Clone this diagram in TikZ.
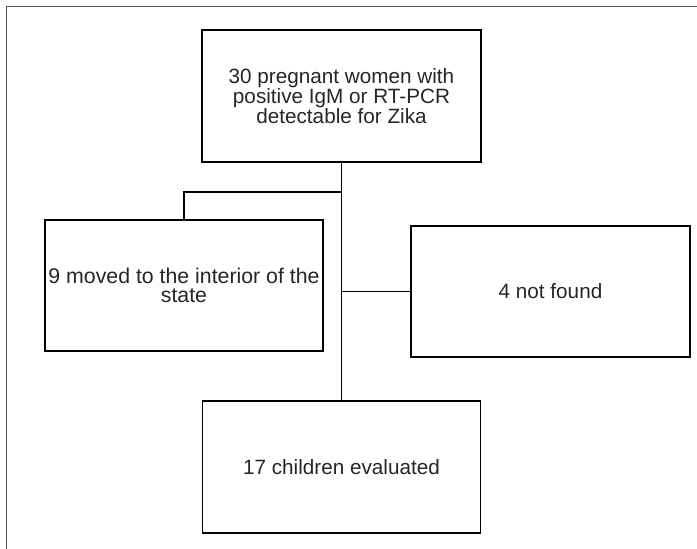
\documentclass[tikz,border=0pt]{standalone}
\usepackage{fontspec}
\setmainfont{Liberation Sans}
\begin{document}
\begin{tikzpicture}[x=1pt,y=-1pt,
  box/.style={draw=black, line width=1.8pt, fill=white, inner sep=0pt, align=center,
    font=\fontsize{20.7}{19.7}\selectfont, text=black!85},
  conn/.style={draw=black, line width=1.8pt},
  frame/.style={draw=black!65, line width=1pt}]
\useasboundingbox (0,0) rectangle (697,549);
\draw[frame] (6,549) -- (6,6) -- (697,6);
\node[box, minimum width=279, minimum height=132] (top) at (341.5,96)
  {30 pregnant women with\\positive IgM or RT-PCR\\detectable for Zika};
\node[box, minimum width=278, minimum height=131, font=\fontsize{21.3}{19.7}\selectfont] (left) at (184,285.5)
  {9 moved to the interior of the\\state};
\node[box, minimum width=279, minimum height=131] (right) at (550.5,291.5)
  {4 not found};
\node[box, minimum width=278, minimum height=132] (bottom) at (341.5,467)
  {17 children evaluated};
\coordinate (jl) at (341.5,192);
\coordinate (jr) at (341.5,291.5);
\draw[conn] (top.south) -- (bottom.north);
\draw[conn] (jl) -- (jl -| left.north) -- (left.north);
\draw[conn] (jr) -- (right.west);
\end{tikzpicture}
\end{document}
